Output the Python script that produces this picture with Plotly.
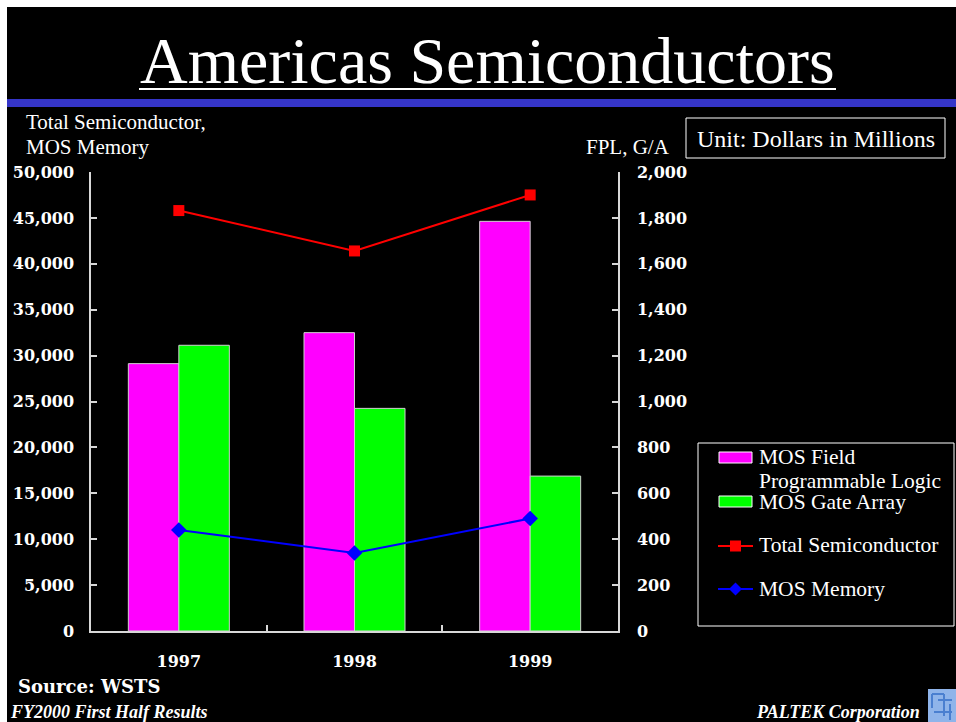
import plotly.graph_objects as go

years = ["1997", "1998", "1999"]
fpl = [1165, 1300, 1785]          # MOS Field Programmable Logic (right axis)
gate_array = [1245, 970, 675]     # MOS Gate Array (right axis)
total_semi = [45800, 41400, 47500]  # Total Semiconductor (left axis)
mos_memory = [11000, 8500, 12250]   # MOS Memory (left axis)

left_ticks = list(range(0, 50001, 5000))
right_ticks = list(range(0, 2001, 200))

W, H = 956, 722
# plot area in window pixels
L, R, T, B = 91, 618, 172, 631

def px(x):
    return (x - L) / (R - L)

def py(y):
    return (B - y) / (B - T)

SERIF = "Liberation Serif"
BOLD = "DejaVu Serif"
AX = "#d8d8d8"

fig = go.Figure()
fig.add_trace(go.Bar(x=years, y=fpl, name="MOS Field Programmable Logic",
                     marker=dict(color="#FF00FF", line=dict(color="#d0d0d0", width=1)),
                     yaxis="y"))
fig.add_trace(go.Bar(x=years, y=gate_array, name="MOS Gate Array",
                     marker=dict(color="#00FF00", line=dict(color="#d0d0d0", width=1)),
                     yaxis="y"))
fig.add_trace(go.Scatter(x=years, y=total_semi, name="Total Semiconductor", mode="lines+markers",
                         line=dict(color="#FF0000", width=2),
                         marker=dict(symbol="square", size=11, color="#FF0000"),
                         yaxis="y2"))
fig.add_trace(go.Scatter(x=years, y=mos_memory, name="MOS Memory", mode="lines+markers",
                         line=dict(color="#0000FF", width=2),
                         marker=dict(symbol="diamond", size=12, color="#0000FF"),
                         yaxis="y2"))

shapes = []
annotations = []

# white frame strips (top and left)
shapes.append(dict(type="rect", xref="paper", yref="paper", x0=px(0), x1=px(W), y0=py(7), y1=py(0),
                   fillcolor="white", line=dict(width=0), layer="below"))
shapes.append(dict(type="rect", xref="paper", yref="paper", x0=px(0), x1=px(7), y0=py(H), y1=py(0),
                   fillcolor="white", line=dict(width=0), layer="below"))
# blue band
shapes.append(dict(type="rect", xref="paper", yref="paper", x0=px(7), x1=px(W), y0=py(107), y1=py(99),
                   fillcolor="#3535C8", line=dict(width=0), layer="below"))
# title underline
shapes.append(dict(type="line", xref="paper", yref="paper", x0=px(139), x1=px(836), y0=py(89), y1=py(89),
                   line=dict(color="white", width=2)))
annotations.append(dict(text="Americas Semiconductors", xref="paper", yref="paper",
                        x=px(487.5), y=py(61), xanchor="center", yanchor="middle", showarrow=False,
                        font=dict(family=SERIF, size=66, color="white")))

# axis titles
annotations.append(dict(text="Total Semiconductor,", xref="paper", yref="paper", x=px(24), y=py(122),
                        xanchor="left", yanchor="middle", showarrow=False,
                        font=dict(family=SERIF, size=21, color="white")))
annotations.append(dict(text="MOS Memory", xref="paper", yref="paper", x=px(24), y=py(147),
                        xanchor="left", yanchor="middle", showarrow=False,
                        font=dict(family=SERIF, size=21, color="white")))
annotations.append(dict(text="FPL, G/A", xref="paper", yref="paper", x=px(584), y=py(147),
                        xanchor="left", yanchor="middle", showarrow=False,
                        font=dict(family=SERIF, size=21, color="white")))

# unit box
shapes.append(dict(type="rect", xref="paper", yref="paper", x0=px(686), x1=px(945), y0=py(158), y1=py(118),
                   line=dict(color="white", width=1), fillcolor="rgba(0,0,0,0)"))
annotations.append(dict(text="Unit: Dollars in Millions", xref="paper", yref="paper", x=px(815.5), y=py(139),
                        xanchor="center", yanchor="middle", showarrow=False,
                        font=dict(family=SERIF, size=24, color="white")))

# custom legend
shapes.append(dict(type="rect", xref="paper", yref="paper", x0=px(698), x1=px(954), y0=py(626), y1=py(443),
                   line=dict(color="white", width=1), fillcolor="rgba(0,0,0,0)"))
shapes.append(dict(type="rect", xref="paper", yref="paper", x0=px(719), x1=px(752), y0=py(463), y1=py(452),
                   line=dict(color="white", width=1), fillcolor="#FF00FF"))
shapes.append(dict(type="rect", xref="paper", yref="paper", x0=px(719), x1=px(752), y0=py(507), y1=py(496),
                   line=dict(color="white", width=1), fillcolor="#00FF00"))
shapes.append(dict(type="line", xref="paper", yref="paper", x0=px(718), x1=px(753), y0=py(546), y1=py(546),
                   line=dict(color="#FF0000", width=2)))
shapes.append(dict(type="rect", xref="paper", yref="paper", x0=px(730), x1=px(741), y0=py(551.5), y1=py(540.5),
                   line=dict(width=0), fillcolor="#FF0000"))
shapes.append(dict(type="line", xref="paper", yref="paper", x0=px(718), x1=px(753), y0=py(589), y1=py(589),
                   line=dict(color="#0000FF", width=2)))
cx, cy, d = 735.5, 589, 6.5
shapes.append(dict(type="path", xref="paper", yref="paper",
                   path=f"M {px(cx-d)} {py(cy)} L {px(cx)} {py(cy-d)} L {px(cx+d)} {py(cy)} L {px(cx)} {py(cy+d)} Z",
                   line=dict(width=0), fillcolor="#0000FF"))
leg_font = dict(family=SERIF, size=21.5, color="white")
for txt, yy in [("MOS Field", 457), ("Programmable Logic", 481), ("MOS Gate Array", 502),
                ("Total Semiconductor", 545), ("MOS Memory", 589)]:
    annotations.append(dict(text=txt, xref="paper", yref="paper", x=px(757), y=py(yy),
                            xanchor="left", yanchor="middle", showarrow=False, font=leg_font))

# footer
annotations.append(dict(text="Source: WSTS", xref="paper", yref="paper", x=px(16), y=py(686),
                        xanchor="left", yanchor="middle", showarrow=False,
                        font=dict(family=BOLD, size=18, color="white", weight="bold")))
annotations.append(dict(text="<b><i>FY2000 First Half Results</i></b>", xref="paper", yref="paper",
                        x=px(8), y=py(712), xanchor="left", yanchor="middle", showarrow=False,
                        font=dict(family=SERIF, size=18, color="white")))
annotations.append(dict(text="<b><i>PALTEK Corporation</i></b>", xref="paper", yref="paper",
                        x=px(922), y=py(712), xanchor="right", yanchor="middle", showarrow=False,
                        font=dict(family=SERIF, size=18, color="white")))
# logo
shapes.append(dict(type="rect", xref="paper", yref="paper", x0=px(928), x1=px(956), y0=py(722), y1=py(689),
                   line=dict(width=0), fillcolor="#8fb4ea"))
for x0, y0, x1, y1 in [(932, 694, 944, 694), (932, 694, 932, 708), (938, 700, 952, 700),
                       (944, 694, 944, 716), (934, 712, 952, 712), (950, 704, 950, 720)]:
    shapes.append(dict(type="line", xref="paper", yref="paper", x0=px(x0), x1=px(x1), y0=py(y0), y1=py(y1),
                       line=dict(color="#4a7fd0", width=2)))

tickfont = dict(family=BOLD, size=16, color="white", weight="bold")

fig.update_layout(
    width=W, height=H,
    margin=dict(l=L, r=W - R, t=T, b=H - B, pad=0),
    paper_bgcolor="black", plot_bgcolor="black",
    showlegend=False,
    barmode="group", bargap=0.425, bargroupgap=0,
    xaxis=dict(type="category", range=[-0.5, 2.5], showline=True, linecolor=AX, linewidth=1.5,
               ticks="inside", tickson="boundaries", ticklen=6, tickcolor=AX, tickwidth=1.5,
               showgrid=False, zeroline=False, tickfont=tickfont,
               ticklabelstandoff=15),
    yaxis=dict(side="right", range=[0, 2000], tickvals=right_ticks,
               ticktext=[f"{v:,}" for v in right_ticks],
               showline=True, linecolor=AX, linewidth=1.5, ticks="inside", ticklen=6,
               tickcolor=AX, tickwidth=1.5, showgrid=False, zeroline=False, tickfont=tickfont,
               ticklabelstandoff=14),
    yaxis2=dict(side="left", overlaying="y", range=[0, 50000], tickvals=left_ticks,
                ticktext=[f"{v:,}" for v in left_ticks],
                showline=True, linecolor=AX, linewidth=1.5, ticks="inside", ticklen=6,
                tickcolor=AX, tickwidth=1.5, showgrid=False, zeroline=False, tickfont=tickfont,
                ticklabelstandoff=12),
    shapes=shapes,
    annotations=annotations,
)

fig.write_html("out.html", config={"displayModeBar": False},
               post_script="document.body.style.margin='0';document.body.style.overflow='hidden';")
